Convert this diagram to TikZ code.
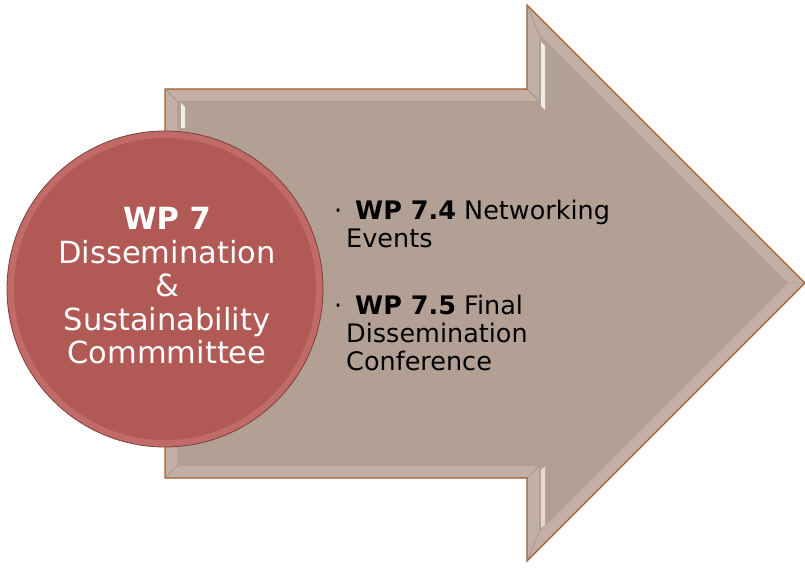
\documentclass[tikz,border=0pt]{standalone}
\usepackage{fontspec}
\setmainfont{DejaVu Sans}
\definecolor{arrowfill}{HTML}{B3A095}
\definecolor{arrowbevel}{HTML}{C2B0A6}
\definecolor{arrowline}{HTML}{A85A2A}
\definecolor{circfill}{HTML}{B15954}
\definecolor{circrim}{HTML}{C06B67}
\definecolor{circline}{HTML}{7E3E3A}
\tikzset{
  circtext/.style={text=white, align=center, font=\fontsize{30.5}{33.5}\selectfont},
  itemtext/.style={text=black, align=left, anchor=north west, font=\fontsize{25.5}{28}\selectfont, inner sep=0pt},
}
\begin{document}
\begin{tikzpicture}[x=1pt,y=-1pt]
\useasboundingbox (0,0) rectangle (805,567);
% arrow outer (bevel)
\draw[arrowline, line width=1.2pt, fill=arrowbevel]
  (165,89) -- (527,89) -- (527,5) -- (805,283) -- (527,561) -- (527,478) -- (165,478) -- cycle;
% inner face
\fill[arrowfill] (177,101) -- (539,101) -- (539,34) -- (788,283) -- (539,532) -- (539,466) -- (177,466) -- cycle;
% bevel facets
\draw[arrowfill!85!black, line width=0.4pt] (165,89) -- (177,101) (527,89) -- (539,101) (527,5) -- (539,34)
  (805,283) -- (788,283) (527,561) -- (539,532) (527,478) -- (539,466) (165,478) -- (177,466);
% highlights
\fill[white, opacity=0.8] (541,42) -- (545,46) -- (545,110) -- (541,106) -- cycle;
\fill[white, opacity=0.8] (181,103) -- (185,107) -- (185,128) -- (181,128) -- cycle;
\fill[white, opacity=0.6] (541,470) -- (545,466) -- (545,525) -- (541,528) -- cycle;
% circle
\node[circle, draw=circline, line width=0.8pt, fill=circrim, minimum size=316pt, inner sep=0pt] (c) at (165,289) {};
\fill[circfill] (c.center) circle[radius=151];
\node[circtext] (ct) at (167,286) {\textbf{WP 7}\\Dissemination\\\&\\Sustainability\\Commmittee};
% items
\node[itemtext] (i1) at (346,200) {\llap{·\hspace{4pt}}\hspace{9pt}\textbf{WP 7.4} Networking\\Events};
\node[itemtext] (i2) at (346,295) {\llap{·\hspace{4pt}}\hspace{9pt}\textbf{WP 7.5} Final\\Dissemination\\Conference};
\end{tikzpicture}
\end{document}
